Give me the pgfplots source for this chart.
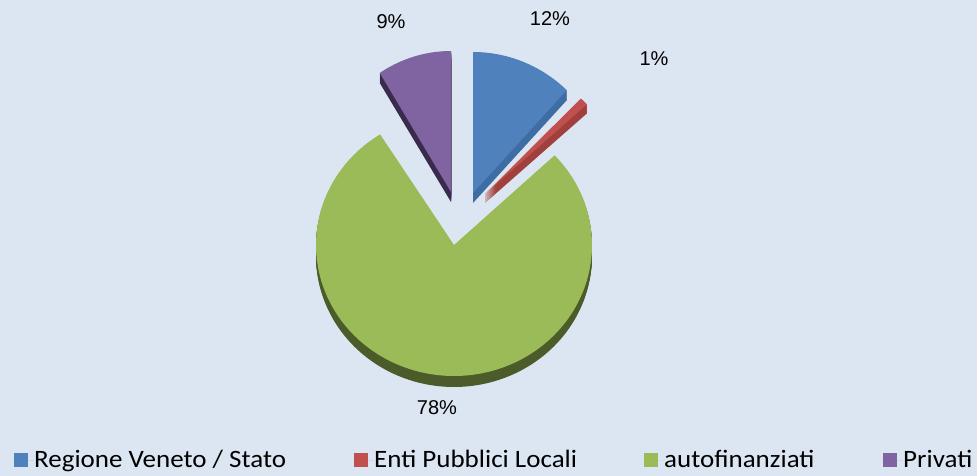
\documentclass[border=0pt]{standalone}
\usepackage{pgfplots}
\pgfplotsset{compat=1.18}
\usepackage{fontspec}
\setmainfont{Carlito}
\newfontfamily\legfont[FakeStretch=1.08]{Carlito}
\newfontfamily\arialfont{Liberation Sans}
\definecolor{bgc}{HTML}{DCE6F2}
\definecolor{cblue}{HTML}{4F81BD}
\definecolor{cblueS}{HTML}{3E6DA4}
\definecolor{cred}{HTML}{C0504D}
\definecolor{credS}{HTML}{A03F3C}
\definecolor{cgreen}{HTML}{9BBB59}
\definecolor{cgreenS}{HTML}{4B5B29}
\definecolor{cpurple}{HTML}{8064A2}
\definecolor{cpurpleS}{HTML}{3A2B4C}
% percentages
\def\vA{12}\def\vB{1}\def\vC{78}\def\vD{9}
\pgfmathsetmacro\aA{90}
\pgfmathsetmacro\aB{90-3.6*\vA}
\pgfmathsetmacro\aC{\aB-3.6*\vB}
\pgfmathsetmacro\aD{\aC-3.6*\vC}
\pgfmathsetmacro\aE{\aD-3.6*\vD}
\pgfplotsset{legend image code/.code={\fill[#1] (0pt,-7pt) rectangle (14pt,7pt); \path (0pt,0pt) -- (20pt,0pt);}}
\begin{document}
\begin{tikzpicture}
\fill[bgc] (0,0) rectangle (977pt,476pt);
\begin{axis}[at={(0,0)}, anchor=south west, scale only axis, width=977pt, height=476pt,
  xmin=0, xmax=977, ymin=0, ymax=476, y dir=reverse, hide axis, clip=false,
  legend columns=4,
  legend style={at={(axis cs:14,460)}, anchor=west, draw=none, fill=none,
    inner sep=0pt, column sep=0pt,
    nodes={inner xsep=0pt, inner ysep=0pt, font=\legfont\fontsize{25}{30}\selectfont}},
]
% ---- Blue slice: Regione Veneto / Stato
\pgfplotsinvokeforeach{1,...,10}{
\addplot[fill=cblueS, draw=none, domain=\aB:\aA, samples=60, forget plot]
 ({473+137*cos(x)}, {193+#1-141*sin(x)}) -- (axis cs:473,{193+#1}) -- cycle;}
\addplot[fill=cblue, draw=none, domain=\aB:\aA, samples=60]
 ({473+137*cos(x)}, {193-141*sin(x)}) -- (axis cs:473,193) -- cycle;
\addlegendentry{\makebox[320pt][l]{Regione Veneto / Stato}}
% ---- Red slice: Enti Pubblici Locali
\pgfplotsinvokeforeach{1,...,9}{
\addplot[fill=credS, draw=none, domain=\aC:\aB, samples=10, forget plot]
 ({485+140*cos(x)}, {194+#1-131*sin(x)}) -- (axis cs:485,{194+#1}) -- cycle;}
\addplot[fill=cred, draw=none, domain=\aC:\aB, samples=10]
 ({485+140*cos(x)}, {194-131*sin(x)}) -- (axis cs:485,194) -- cycle;
\addlegendentry{\makebox[270pt][l]{Enti Pubblici Locali}}
% ---- Green slice: autofinanziati
\pgfplotsinvokeforeach{1,...,11}{
\addplot[fill=cgreenS, draw=none, domain=\aD:\aC, samples=200, forget plot]
 ({454+138*cos(x)}, {245+#1-131*sin(x)}) -- (axis cs:454,{245+#1}) -- cycle;}
\addplot[fill=cgreen, draw=none, domain=\aD:\aC, samples=200]
 ({454+138*cos(x)}, {245-131*sin(x)}) -- (axis cs:454,245) -- cycle;
\addlegendentry{\makebox[219pt][l]{autofinanziati}}
% ---- Purple slice: Privati
\pgfplotsinvokeforeach{1,...,10}{
\addplot[fill=cpurpleS, draw=none, domain=\aE:\aD, samples=50, forget plot]
 ({451+133*cos(x)}, {192+#1-141*sin(x)}) -- (axis cs:451,{192+#1}) -- cycle;}
\addplot[fill=cpurple, draw=none, domain=\aE:\aD, samples=50]
 ({451+133*cos(x)}, {192-141*sin(x)}) -- (axis cs:451,192) -- cycle;
\addlegendentry{Privati}
% ---- data labels
\node[font=\arialfont\fontsize{20}{24}\selectfont] at (axis cs:550,19) {12\%};
\node[font=\arialfont\fontsize{20}{24}\selectfont] at (axis cs:654,59) {1\%};
\node[font=\arialfont\fontsize{20}{24}\selectfont] at (axis cs:437,408) {78\%};
\node[font=\arialfont\fontsize{20}{24}\selectfont] at (axis cs:391,22) {9\%};
\end{axis}
\end{tikzpicture}
\end{document}
